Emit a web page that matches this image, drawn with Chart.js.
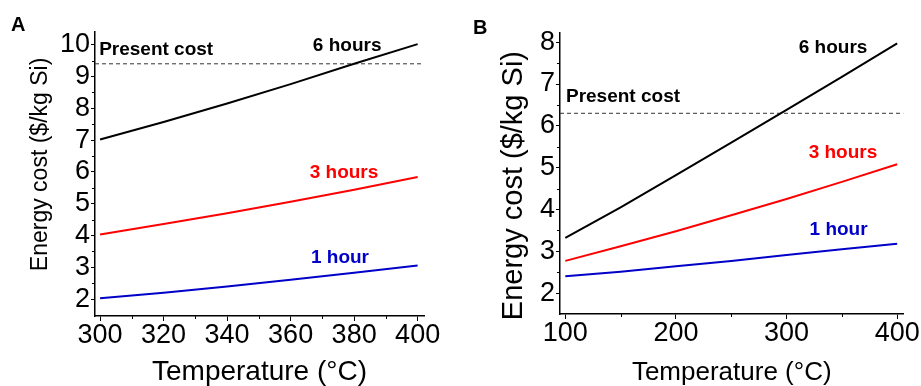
<!DOCTYPE html>
<html>
<head>
<meta charset="utf-8">
<script src="https://cdn.jsdelivr.net/npm/chart.js@4.4.1/dist/chart.umd.min.js"></script>
<style>
  body { margin: 0; background: #fff; }
  #wrap { position: relative; width: 921px; height: 386px; }
  canvas { position: absolute; top: 0; }
</style>
</head>
<body>
<div id="wrap">
  <canvas id="chartA" width="460" height="386" style="left:0"></canvas>
  <canvas id="chartB" width="461" height="386" style="left:460px"></canvas>
</div>
<script>
const FONT = '"Liberation Sans", Arial, sans-serif';

// Panel A: temperature 300-400 °C
const tempA = [300, 320, 340, 360, 380, 400];
const oneHourA = [2.03, 2.20, 2.40, 2.61, 2.83, 3.06];
const threeHoursA = [4.03, 4.36, 4.70, 5.06, 5.44, 5.84];
const sixHoursA = [7.02, 7.57, 8.15, 8.76, 9.40, 10.02];
const presentCostA = 9.4;

// Panel B: temperature 100-400 °C
const tempB = [100, 150, 200, 250, 300, 350, 400];
const oneHourB = [2.40, 2.51, 2.64, 2.77, 2.91, 3.05, 3.18];
const threeHoursB = [2.77, 3.12, 3.48, 3.86, 4.25, 4.66, 5.08];
const sixHoursB = [3.32, 4.05, 4.82, 5.60, 6.38, 7.17, 7.97];
const presentCostB = 6.3;

const seriesNames = ['1 hour', '3 hours', '6 hours'];
const seriesColors = ['#0000c8', '#ff0000', '#000000'];

function pts(xs, ys) {
  return xs.map((x, i) => ({ x: x, y: ys[i] }));
}

// minor ticks and in-plot text, placed through the scales
const notesPlugin = {
  id: 'notes',
  afterDraw(chart, args, opts) {
    const ctx = chart.ctx;
    const xs = chart.scales.x, ys = chart.scales.y;
    ctx.save();
    ctx.strokeStyle = '#000';
    ctx.lineWidth = 1;
    opts.minorX.forEach(v => {
      const px = Math.round(xs.getPixelForValue(v)) + 0.5;
      ctx.beginPath();
      ctx.moveTo(px, ys.bottom);
      ctx.lineTo(px, ys.bottom + 3);
      ctx.stroke();
    });
    opts.minorY.forEach(v => {
      const py = Math.round(ys.getPixelForValue(v)) + 0.5;
      ctx.beginPath();
      ctx.moveTo(xs.left, py);
      ctx.lineTo(xs.left - 3, py);
      ctx.stroke();
    });
    ctx.font = 'bold 19px ' + FONT;
    ctx.textBaseline = 'middle';
    ctx.textAlign = 'left';
    opts.labels.forEach(l => {
      ctx.fillStyle = l.color;
      ctx.fillText(l.text, xs.getPixelForValue(l.x), ys.getPixelForValue(l.y));
    });
    ctx.fillStyle = '#000';
    ctx.font = 'bold 20px ' + FONT;
    ctx.fillText(opts.letter, opts.letterPos[0], opts.letterPos[1]);
    ctx.restore();
  }
};

function makeChart(id, p) {
  const datasets = [p.one, p.three, p.six].map((ys, i) => ({
    label: seriesNames[i],
    data: pts(p.temps, ys),
    borderColor: seriesColors[i],
    borderWidth: 2,
    pointRadius: 0,
    tension: 0,
    fill: false
  }));
  datasets.push({
    label: 'Present cost',
    data: [{ x: p.xMin, y: p.present }, { x: p.xMax, y: p.present }],
    borderColor: '#333',
    borderWidth: 1,
    borderDash: [4, 3],
    pointRadius: 0,
    fill: false
  });

  return new Chart(document.getElementById(id), {
    type: 'line',
    data: { datasets: datasets },
    options: {
      responsive: false,
      animation: false,
      devicePixelRatio: 1,
      layout: { padding: { left: 0, right: p.padRight, top: p.padTop, bottom: 0 } },
      plugins: {
        legend: { display: false },
        tooltip: { enabled: false },
        notes: {
          minorX: p.minorX,
          minorY: p.minorY,
          labels: p.labels,
          letter: p.letter,
          letterPos: p.letterPos
        }
      },
      scales: {
        x: {
          type: 'linear',
          min: p.xMin,
          max: p.xMax,
          afterFit: s => { s.height = p.xAxisHeight; },
          ticks: {
            stepSize: p.xStep,
            includeBounds: false,
            color: '#000',
            padding: 1,
            font: { family: FONT, size: 27, lineHeight: 1 }
          },
          grid: { drawOnChartArea: false, tickLength: 5, tickColor: '#000', tickWidth: 1 },
          border: { color: '#000', width: 1.5 },
          title: {
            display: true,
            text: 'Temperature (°C)',
            color: '#000',
            padding: 0,
            font: { family: FONT, size: p.xTitleSize, lineHeight: 1 }
          }
        },
        y: {
          min: p.yMin,
          max: p.yMax,
          afterFit: s => { s.width = p.yAxisWidth; },
          ticks: {
            stepSize: 1,
            includeBounds: false,
            color: '#000',
            padding: 1,
            font: { family: FONT, size: 27, lineHeight: 1 }
          },
          grid: { drawOnChartArea: false, tickLength: 4, tickColor: '#000', tickWidth: 1 },
          border: { color: '#000', width: 1.5 },
          title: {
            display: true,
            text: p.yTitle,
            color: '#000',
            padding: { top: p.yTitlePad, bottom: 0 },
            font: { family: FONT, size: p.yTitleSize, lineHeight: 1 }
          }
        }
      }
    },
    plugins: [notesPlugin]
  });
}

makeChart('chartA', {
  temps: tempA, one: oneHourA, three: threeHoursA, six: sixHoursA, present: presentCostA,
  xMin: 298.4, xMax: 402, xStep: 20, yMin: 1.47, yMax: 10.4,
  padRight: 36, padTop: 32, xAxisHeight: 70, yAxisWidth: 95,
  xTitleSize: 28, yTitleSize: 23, yTitlePad: 29,
  // leading spaces nudge the rotated title up a little
  yTitle: '   Energy cost ($/kg Si)',
  minorX: [310, 330, 350, 370, 390],
  minorY: [2.5, 3.5, 4.5, 5.5, 6.5, 7.5, 8.5, 9.5],
  labels: [
    { text: 'Present cost', x: 299.7, y: 9.84, color: '#000' },
    { text: '6 hours', x: 367, y: 9.97, color: '#000' },
    { text: '3 hours', x: 366, y: 5.96, color: '#ff0000' },
    { text: '1 hour', x: 366.4, y: 3.29, color: '#0000c8' }
  ],
  letter: 'A', letterPos: [11, 25]
});

makeChart('chartB', {
  temps: tempB, one: oneHourB, three: threeHoursB, six: sixHoursB, present: presentCostB,
  xMin: 95.2, xMax: 405.7, xStep: 100, yMin: 1.5, yMax: 8.22,
  padRight: 17, padTop: 33, xAxisHeight: 72, yAxisWidth: 100,
  xTitleSize: 26, yTitleSize: 29, yTitlePad: 39,
  // trailing spaces nudge the rotated title down a little
  yTitle: 'Energy cost ($/kg Si)   ',
  minorX: [150, 250, 350],
  minorY: [2.5, 3.5, 4.5, 5.5, 6.5, 7.5],
  labels: [
    { text: '6 hours', x: 311, y: 7.86, color: '#000' },
    { text: 'Present cost', x: 100.6, y: 6.69, color: '#000' },
    { text: '3 hours', x: 320, y: 5.35, color: '#ff0000' },
    { text: '1 hour', x: 320.8, y: 3.51, color: '#0000c8' }
  ],
  letter: 'B', letterPos: [13, 28]
});
</script>
</body>
</html>
